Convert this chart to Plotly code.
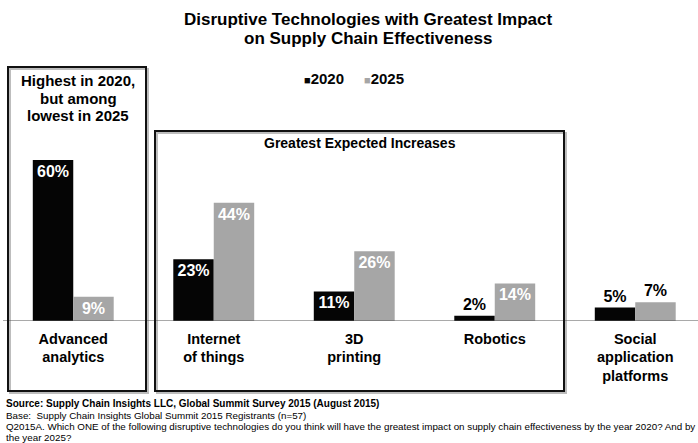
import plotly.graph_objects as go

# Survey results: share of respondents naming each technology
categories = ["Advanced analytics", "Internet of things", "3D printing", "Robotics",
              "Social application platforms"]
tick_labels = ["Advanced<br>analytics", "Internet<br>of things", "3D<br>printing", "Robotics",
               "Social<br>application<br>platforms"]
values_2020 = [60, 23, 11, 2, 5]
values_2025 = [9, 44, 26, 14, 7]
series_names = ["2020", "2025"]

FONT = "Liberation Sans, Arial, sans-serif"
BLACK = "#050505"
GREY = "#a6a6a6"

W, H = 698, 443
ML, MR, MT, MB = 3, 0, 110, 122
PW, PH = W - ML - MR, H - MT - MB


def px(x):
    return (x - ML) / PW


def py(y):
    return (H - MB - y) / PH


fig = go.Figure()
fig.add_trace(go.Bar(
    x=categories, y=values_2020, name=series_names[0],
    marker=dict(color=BLACK, line=dict(width=0)),
    text=[f"<b>{v}%</b>" for v in values_2020],
    textposition=["inside", "inside", "inside", "outside", "outside"],
    insidetextanchor="end",
    textfont=dict(family=FONT, size=16, color=["white", "white", "white", "black", "black"]),
    constraintext="none", cliponaxis=False,
))
fig.add_trace(go.Bar(
    x=categories, y=values_2025, name=series_names[1],
    marker=dict(color=GREY, line=dict(width=0)),
    text=[f"<b>{v}%</b>" for v in values_2025],
    textposition=["inside", "inside", "inside", "inside", "outside"],
    insidetextanchor="end",
    textfont=dict(family=FONT, size=16, color=["white", "white", "white", "white", "black"]),
    constraintext="none", cliponaxis=False,
))

fig.update_layout(
    width=W, height=H,
    margin=dict(l=ML, r=MR, t=MT, b=MB),
    paper_bgcolor="white", plot_bgcolor="white",
    barmode="group", bargap=0.424, bargroupgap=0,
    showlegend=False,
    font=dict(family=FONT, color="black"),
    xaxis=dict(
        type="category", range=[-0.5, -0.5 + PW / 140.5],
        tickmode="array", tickvals=categories,
        ticktext=[f"<b>{t}</b>" for t in tick_labels],
        tickfont=dict(family=FONT, size=14.5, color="black"),
        showgrid=False, zeroline=False, showline=False, ticks="",
        ticklabelstandoff=7,
    ),
    yaxis=dict(
        range=[0, PH / 2.685], visible=False, showgrid=False, zeroline=False,
    ),
)

# baseline
fig.add_shape(type="line", xref="paper", yref="y", x0=0, x1=1, y0=0, y1=0,
              line=dict(color="#555555", width=1.2))

# callout boxes with soft shadow
boxes = [(8, 67, 146, 391), (155, 131, 564, 391)]
for x0, y0, x1, y1 in boxes:
    fig.add_shape(type="rect", xref="paper", yref="paper",
                  x0=px(x0 + 2), y0=py(y0 + 2), x1=px(x1 + 2), y1=py(y1 + 2),
                  line=dict(color="#bdbdbd", width=2), layer="below")
    fig.add_shape(type="rect", xref="paper", yref="paper",
                  x0=px(x0), y0=py(y0), x1=px(x1), y1=py(y1),
                  line=dict(color="#111111", width=2), layer="above")


def note(text, x, y, size, xanchor="center", bold=True, color="black"):
    fig.add_annotation(
        text=f"<b>{text}</b>" if bold else text,
        xref="paper", yref="paper", x=px(x), y=py(y),
        xanchor=xanchor, yanchor="middle", showarrow=False,
        font=dict(family=FONT, size=size, color=color), align="center",
    )


note("Disruptive Technologies with Greatest Impact", 368, 19, 17)
note("on Supply Chain Effectiveness", 368, 38, 17)

# legend
fig.add_annotation(
    text=f"<span style='font-size:11px'>■</span><b>{series_names[0]}</b>",
    xref="paper", yref="paper", x=px(302), y=py(79), xanchor="left", yanchor="middle",
    showarrow=False, font=dict(family=FONT, size=15, color=BLACK),
)
fig.add_annotation(
    text=f"<span style='font-size:11px;fill:{GREY}'>■</span><b>{series_names[1]}</b>",
    xref="paper", yref="paper", x=px(362), y=py(79), xanchor="left", yanchor="middle",
    showarrow=False, font=dict(family=FONT, size=15, color=BLACK),
)

note("Highest in 2020,", 78, 80, 15)
note("but among", 78, 98, 15)
note("lowest in 2025", 78, 116, 15)
note("Greatest Expected Increases", 360, 143, 14)

note("Source: Supply Chain Insights LLC, Global Summit Survey 2015 (August 2015)", 4, 403, 10,
     xanchor="left")
note("Base:  Supply Chain Insights Global Summit 2015 Registrants (n=57)", 4, 415, 9.8,
     xanchor="left", bold=False)
note("Q2015A. Which ONE of the following disruptive technologies do you think will have the "
     "greatest impact on supply chain effectiveness by the year 2020? And by", 4, 426.5, 9.8,
     xanchor="left", bold=False)
note("the year 2025?", 4, 437, 9.8, xanchor="left", bold=False)

fig.write_html("out.html")
